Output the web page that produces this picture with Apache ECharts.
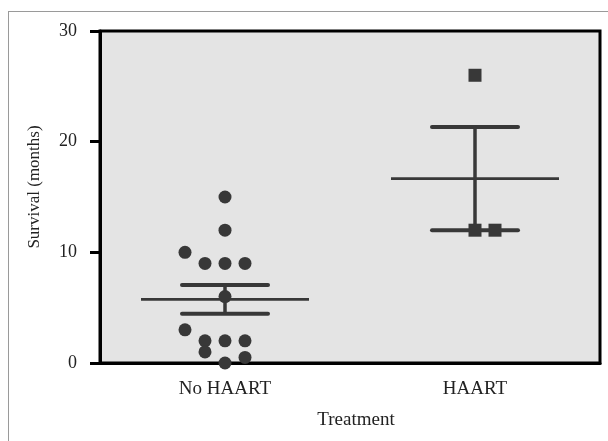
<!DOCTYPE html>
<html>
<head>
<meta charset="utf-8">
<style>html,body{margin:0;padding:0;background:#fff;}#c{width:608px;height:441px;}</style>
<script src="https://cdn.jsdelivr.net/npm/echarts@6/dist/echarts.min.js"></script>
</head>
<body>
<div id="c"></div>
<script>
const categories = ['No HAART', 'HAART'];
const noHaartValues = [15, 12, 10, 9, 9, 9, 6, 3, 2, 2, 2, 1, 0.5, 0];
const noHaartJitterPx = [0, 0, -40, -20, 0, 20, 0, -40, -20, 0, 20, -20, 20, 0];
const haartValues = [26, 12, 12];
const haartJitterPx = [0, 0, 20];
const yMin = 0, yMax = 30, yInterval = 10;

function meanSem(arr) {
  const n = arr.length;
  const m = arr.reduce((a, b) => a + b, 0) / n;
  const sd = Math.sqrt(arr.reduce((a, b) => a + (b - m) * (b - m), 0) / (n - 1));
  const sem = sd / Math.sqrt(n);
  return [m, m - sem, m + sem];
}
const groups = [noHaartValues, haartValues];
const summary = groups.map((g, i) => [i].concat(meanSem(g)));

const FONT = 'Liberation Serif';
const dark = '#383838';

const chart = echarts.init(document.getElementById('c'), null, {renderer: 'canvas'});
chart.setOption({
  backgroundColor: '#ffffff',
  animation: false,
  grid: {
    left: 100, right: 8, top: 31, bottom: 78,
    show: true, backgroundColor: '#e4e4e4', borderColor: '#000', borderWidth: 3
  },
  xAxis: {
    type: 'category',
    data: categories,
    name: 'Treatment',
    nameLocation: 'middle',
    nameGap: 48,
    nameTextStyle: {fontFamily: FONT, fontSize: 19, color: '#222', padding: [0, 0, 0, 12]},
    axisLine: {lineStyle: {color: '#000', width: 3}},
    axisTick: {alignWithLabel: true, length: 10, lineStyle: {color: '#000', width: 3}},
    axisLabel: {fontFamily: FONT, fontSize: 19, color: '#222', margin: 17},
    splitLine: {show: false}
  },
  yAxis: {
    type: 'value',
    min: yMin, max: yMax, interval: yInterval,
    axisLine: {show: true, lineStyle: {color: '#000', width: 3}},
    axisTick: {show: true, length: 10, lineStyle: {color: '#000', width: 3}},
    axisLabel: {fontFamily: FONT, fontSize: 18, color: '#222', margin: 23},
    splitLine: {show: false}
  },
  graphic: [
    {type: 'line', shape: {x1: 8.5, y1: 11, x2: 8.5, y2: 441}, style: {stroke: '#9a9a9a', lineWidth: 1}, silent: true},
    {type: 'line', shape: {x1: 8, y1: 11.5, x2: 608, y2: 11.5}, style: {stroke: '#9a9a9a', lineWidth: 1}, silent: true},
    {type: 'text', x: 35, y: 187, rotation: Math.PI / 2,
     style: {text: 'Survival (months)', fontFamily: FONT, fontSize: 17, fill: '#222', align: 'center', verticalAlign: 'middle'}}
  ],
  series: [
    {
      type: 'custom',
      data: summary,
      encode: {x: 0, y: 1},
      z: 3,
      renderItem: function (params, api) {
        const xi = api.value(0);
        const m = api.coord([xi, api.value(1)]);
        const lo = api.coord([xi, api.value(2)]);
        const hi = api.coord([xi, api.value(3)]);
        const bw = api.size([1, 0])[0];
        const mh = bw * 0.336, ch = bw * 0.172;
        return {
          type: 'group',
          children: [
            {type: 'line', shape: {x1: m[0] - mh, y1: m[1], x2: m[0] + mh, y2: m[1]}, style: {stroke: dark, lineWidth: 2.7}},
            {type: 'line', shape: {x1: lo[0], y1: lo[1], x2: hi[0], y2: hi[1]}, style: {stroke: dark, lineWidth: 3.5}},
            {type: 'line', shape: {x1: hi[0] - ch, y1: hi[1], x2: hi[0] + ch, y2: hi[1]}, style: {stroke: dark, lineWidth: 4, lineCap: 'round'}},
            {type: 'line', shape: {x1: lo[0] - ch, y1: lo[1], x2: lo[0] + ch, y2: lo[1]}, style: {stroke: dark, lineWidth: 4, lineCap: 'round'}}
          ]
        };
      }
    },
    {
      type: 'scatter',
      clip: false,
      z: 4,
      symbol: 'circle',
      symbolSize: 13,
      itemStyle: {color: dark, opacity: 1},
      data: noHaartValues.map((v, i) => ({value: [0, v], symbolOffset: [noHaartJitterPx[i], 0]}))
    },
    {
      type: 'scatter',
      clip: false,
      z: 4,
      symbol: 'rect',
      symbolSize: 13,
      itemStyle: {color: dark, opacity: 1},
      data: haartValues.map((v, i) => ({value: [1, v], symbolOffset: [haartJitterPx[i], 0]}))
    }
  ]
});
</script>
</body>
</html>
